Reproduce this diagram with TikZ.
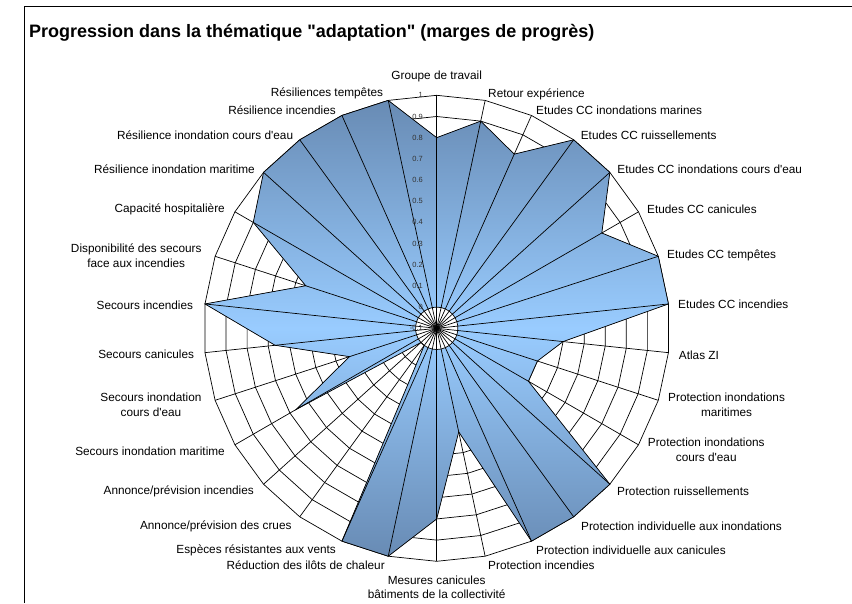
\documentclass[tikz,border=0pt]{standalone}
\usepackage{fontspec}
\setmainfont[Ligatures=TeXOff]{Liberation Sans}
\usetikzlibrary{positioning}

\definecolor{chartdark}{RGB}{104,139,180}
\definecolor{chartlight}{RGB}{153,204,255}

\tikzset{
	lbl/.style={font=\fontsize{11.8}{14.8}\selectfont, inner sep=0pt},
	lbltwo/.style={lbl, align=center},
	scalelbl/.style={font=\fontsize{7.5}{8}\selectfont, inner sep=0pt, anchor=east, text=black!80},
	ring/.style={black, line width=0.7pt},
	spoke/.style={black, line width=0.7pt},
}

\begin{document}
\begin{tikzpicture}[x=1pt,y=1pt]
	
	\useasboundingbox (0,0) rectangle (852,-603);
	\draw [line width=1pt] (24.3,-603) -- (24.3,-6.3) -- (852,-6.3);
	\node [anchor=base west, inner sep=0pt, font=\bfseries\fontsize{18}{20}\selectfont] (title) at (29,-37) {Progression dans la thématique "adaptation" (marges de progrès)};
	
	\begin{scope}[shift={(436.7,-328.3)}]
	\coordinate (O) at (0,0);
	\foreach \k in {0,...,29} \coordinate (a\k) at ({90-12*\k}:233);
	\foreach \v [count=\k from 0] in {0.8,0.9,0.8,1,1,0.8,1,1,0.5,0.4,0.4,1,1,1,0.4,0.8,1,1,0,0,0.667,0.333,0.667,1,0.55,0.9,1,1,1,1}
		\coordinate (d\k) at ({90-12*\k}:{(\v+0.1)/1.1*233});
	
	% grid
	\foreach \i in {2,...,11}
		\draw [ring] (90:{\i*233/11}) \foreach \k in {1,...,29} {-- ({90-12*\k}:{\i*233/11})} -- cycle;
	
	% series
	\fill [top color=chartdark, bottom color=chartdark, middle color=chartlight] (d0) \foreach \k in {1,...,29} {-- (d\k)} -- cycle;
	\fill [white] (O) circle (21.2);
	\foreach \k in {0,...,29} \draw [spoke] (O) -- (a\k);
	\draw [ring] (90:21.2) \foreach \k in {1,...,29} {-- ({90-12*\k}:21.2)} -- cycle;
	\draw [line width=0.7pt] (d0) \foreach \k in {1,...,29} {-- (d\k)} -- cycle;
	
	\foreach \t [count=\i from 0] in {-0.1,0,0.1,0.2,0.3,0.4,0.5,0.6,0.7,0.8,0.9,1}
		\node [scalelbl] (s\i) at (-13.7,{\i*233/11}) {\t};
	\end{scope}
	
	\node [lbl, above=13pt of a0] (GT) {Groupe de travail};
	\node [lbl, right=2.9pt of a1, yshift=6.4pt] (RE) {Retour expérience};
	\node [lbl, right=4.5pt of a2, yshift=5.4pt] (CCIM) {Etudes CC inondations marines};
	\node [lbl, right=7pt of a3, yshift=4.8pt] (CCR) {Etudes CC ruissellements};
	\node [lbl, right=7.4pt of a4, yshift=3.4pt] (CCICE) {Etudes CC inondations cours d'eau};
	\node [lbl, right=8.5pt of a5, yshift=2.8pt] (CCC) {Etudes CC canicules};
	\node [lbl, right=8.7pt of a6, yshift=1.3pt] (CCT) {Etudes CC tempêtes};
	\node [lbl, right=9.6pt of a7] (CCI) {Etudes CC incendies};
	\node [lbl, right=10.3pt of a8, yshift=-2.3pt] (AZI) {Atlas ZI};
	\node [lbltwo, right=9.7pt of a9, yshift=-4.2pt] (PIM) {Protection inondations\\maritimes};
	\node [lbltwo, right=9.2pt of a10, yshift=-5.2pt] (PICE) {Protection inondations\\cours d'eau};
	\node [lbl, right=7.1pt of a11, yshift=-6.8pt] (PR) {Protection ruissellements};
	\node [lbl, right=7.3pt of a12, yshift=-9.2pt] (PII) {Protection individuelle aux inondations};
	\node [lbl, right=4.5pt of a13, yshift=-9.5pt] (PIC) {Protection individuelle aux canicules};
	\node [lbl, right=2.9pt of a14, yshift=-8.8pt] (PI) {Protection incendies};
	\node [lbltwo, below=14pt of a15] (MC) {Mesures canicules\\bâtiments de la collectivité};
	\node [lbl, left=3.3pt of a16, yshift=-8.8pt] (RIC) {Réduction des ilôts de chaleur};
	\node [lbl, left=5.9pt of a17, yshift=-8.8pt] (ERV) {Espèces résistantes aux vents};
	\node [lbl, left=8pt of a18, yshift=-9.2pt] (APC) {Annonce/prévision des crues};
	\node [lbl, left=9.5pt of a19, yshift=-6.8pt] (API) {Annonce/prévision incendies};
	\node [lbl, left=9.9pt of a20, yshift=-6.2pt] (SIM) {Secours inondation maritime};
	\node [lbltwo, left=13.4pt of a21, yshift=-4.2pt] (SICE) {Secours inondation\\cours d'eau};
	\node [lbl, left=10.7pt of a22, yshift=-1.6pt] (SC) {Secours canicules};
	\node [lbl, left=11.7pt of a23, yshift=-1pt] (SI) {Secours incendies};
	\node [lbltwo, left=13.4pt of a24, yshift=0.8pt] (DS) {Disponibilité des secours\\face aux incendies};
	\node [lbl, left=9.9pt of a25, yshift=2.5pt] (CH) {Capacité hospitalière};
	\node [lbl, left=8.5pt of a26, yshift=3.4pt] (RIM) {Résilience inondation maritime};
	\node [lbl, left=6.4pt of a27, yshift=4.8pt] (RICE) {Résilience inondation cours d'eau};
	\node [lbl, left=5.9pt of a28, yshift=5.4pt] (RI) {Résilience incendies};
	\node [lbl, left=5pt of a29, yshift=7.1pt] (RT) {Résiliences tempêtes};
	
\end{tikzpicture}
\end{document}
